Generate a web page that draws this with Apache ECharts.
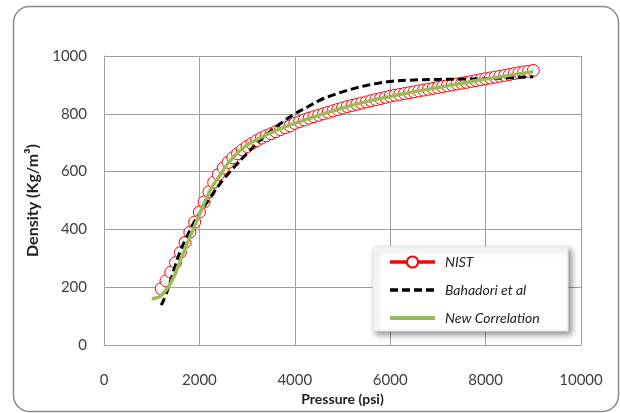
<!DOCTYPE html>
<html>
<head>
<meta charset="utf-8">
<script src="https://cdn.jsdelivr.net/npm/echarts@6/dist/echarts.min.js"></script>
<style>
html,body{margin:0;padding:0;background:#fff;}
#c{width:620px;height:413px;}
</style>
</head>
<body>
<div id="c"></div>
<script>
// ---- Data ----
var seriesNames = ['NIST', 'Bahadori et al', 'New Correlation'];
var xTicks = [0, 2000, 4000, 6000, 8000, 10000];
var yTicks = [0, 200, 400, 600, 800, 1000];

var nistP = [1200,1300,1400,1500,1600,1700,1800,1900,2000,2100,2200,2300,2400,2500,2600,2700,2800,2900,3000,
  3100,3200,3300,3400,3500,3600,3700,3800,3900,4000,4100,4200,4300,4400,4500,4600,4700,4800,4900,5000,
  5100,5200,5300,5400,5500,5600,5700,5800,5900,6000,6100,6200,6300,6400,6500,6600,6700,6800,6900,7000,
  7100,7200,7300,7400,7500,7600,7700,7800,7900,8000,8100,8200,8300,8400,8500,8600,8700,8800,8900,9000];
var nistD = [195,222,252,285,320,355,390,425,460,495,530,563,590,612,632,648,662,675,687,
  697,707,716,724,731,738,745,752,758,767,773,779,785,790,795,800,805,810,815,820,
  825,829,833,837,841,845,849,853,857,861,864,867,870,873,876,879,882,885,888,891,
  894,897,900,903,906,909,912,915,918,921,924,927,930,933,936,939,942,945,947,950];

var bahP = [1200,1300,1400,1500,1600,1700,1800,1900,2000,2100,2200,2300,2400,2500,2600,2700,2800,2900,3000,
  3200,3400,3600,3800,4000,4250,4500,4750,5000,5250,5500,5750,6000,6500,7000,7500,8000,8500,9000];
var bahD = [138,175,225,278,325,362,396,428,455,480,503,528,551,572,592,610,628,646,663,
  697,728,754,778,800,822,845,862,876,888,898,906,912,917,919,920,922,925,928];

var newP = [1000,1100,1200,1300,1400,1500,1600,1700,1800,1900,2000,2100,2200,2300,2400,2500,2600,2800,3000,
  3250,3500,3750,4000,4500,5000,5500,6000,6500,7000,7500,8000,8500,9000];
var newD = [160,163,172,190,215,250,292,333,373,412,451,490,527,556,580,605,628,665,692,
  715,735,752,767,795,820,842,860,876,891,906,920,933,946];

function pairs(xs, ys){ return xs.map(function(x,i){ return [x, ys[i]]; }); }
function plain(v){ return String(v); }

var FONT = 'Lato, "Open Sans", sans-serif';
var chart = echarts.init(document.getElementById('c'), null, {renderer:'canvas'});
chart.setOption({
  animation:false,
  backgroundColor:'#ffffff',
  graphic:[
    {type:'rect', z:-10, shape:{x:13.5, y:6.5, width:605, height:405, r:16},
     style:{fill:'#fff', stroke:'#8a8a8a', lineWidth:1.5}},
    {type:'rect', z:50, shape:{x:373, y:247, width:195, height:84},
     style:{fill:'#fff', stroke:'#e8e8e8', lineWidth:1, shadowBlur:6, shadowOffsetX:3, shadowOffsetY:3, shadowColor:'rgba(0,0,0,0.45)'}}
  ],
  grid:{left:104, top:56, right:39, bottom:68, containLabel:false},
  xAxis:{
    type:'value', min:xTicks[0], max:xTicks[xTicks.length-1], interval:xTicks[1]-xTicks[0],
    name:'Pressure (psi)', nameLocation:'middle', nameGap:47,
    nameTextStyle:{fontFamily:FONT, fontSize:14, fontWeight:'bold', color:'#222'},
    axisLine:{show:true, lineStyle:{color:'#a0a0a0', width:1}},
    axisTick:{show:false},
    axisLabel:{margin:28, fontFamily:FONT, fontSize:15, color:'#404040', formatter:plain},
    splitLine:{show:true, lineStyle:{color:'#a0a0a0', width:1}}
  },
  yAxis:{
    type:'value', min:yTicks[0], max:yTicks[yTicks.length-1], interval:yTicks[1]-yTicks[0],
    name:'Density (Kg/m³)', nameLocation:'middle', nameGap:63, nameRotate:90,
    nameTextStyle:{fontFamily:FONT, fontSize:16, fontWeight:'bold', color:'#222'},
    axisLine:{show:true, lineStyle:{color:'#a0a0a0', width:1}},
    axisTick:{show:false},
    axisLabel:{margin:17, fontFamily:FONT, fontSize:15, color:'#404040', formatter:plain},
    splitLine:{show:true, lineStyle:{color:'#a0a0a0', width:1}}
  },
  legend:{
    z:60, orient:'vertical', left:373, top:247, padding:[8,15,8,15],
    itemWidth:45, itemHeight:14, itemGap:14,
    data:[
      {name:seriesNames[0], lineStyle:{width:3.5}},
      {name:seriesNames[1], itemStyle:{opacity:0}, lineStyle:{width:3.5}},
      {name:seriesNames[2], itemStyle:{opacity:0}, lineStyle:{width:4}}
    ],
    textStyle:{fontFamily:FONT, fontSize:14, fontStyle:'italic', color:'#222', padding:[0,0,0,5]}
  },
  series:[
    {name:seriesNames[0], type:'line', data:pairs(nistP, nistD), z:2,
     symbol:'circle', symbolSize:12, showSymbol:true,
     lineStyle:{color:'#ff0000', width:3},
     itemStyle:{color:'#ffffff', borderColor:'#ff0000', borderWidth:1}},
    {name:seriesNames[1], type:'line', data:pairs(bahP, bahD), z:3, smooth:true,
     symbol:'none', lineStyle:{color:'#000000', width:3, type:[8,4]}, itemStyle:{color:'#000'}},
    {name:seriesNames[2], type:'line', data:pairs(newP, newD), z:4, smooth:true,
     symbol:'none', lineStyle:{color:'#9bbb59', width:3.5}, itemStyle:{color:'#9bbb59'}}
  ]
});
</script>
</body>
</html>
